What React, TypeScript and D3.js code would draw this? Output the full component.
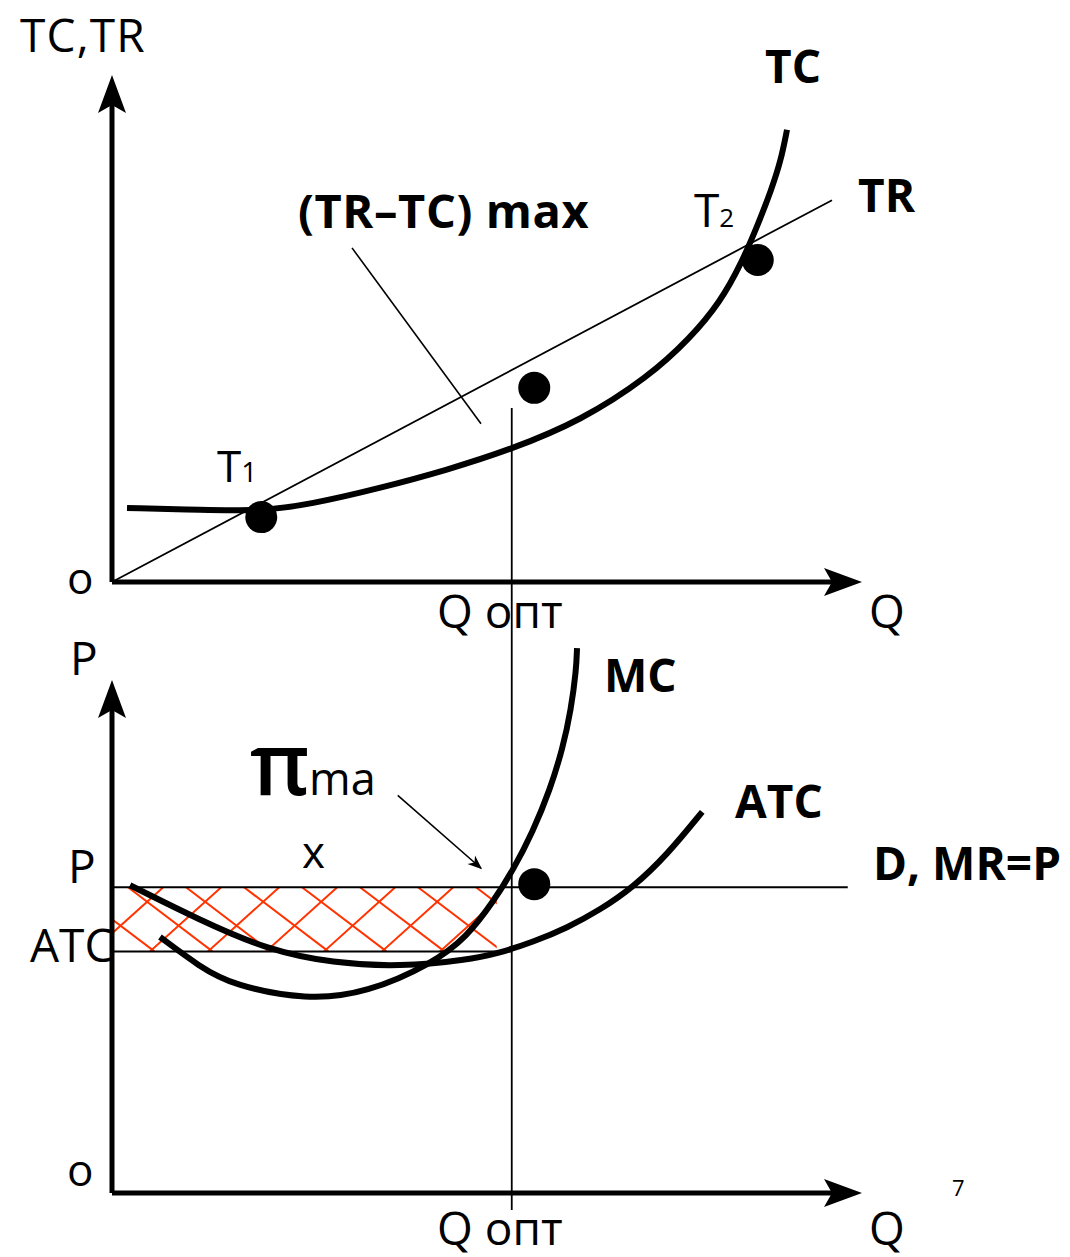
import React from "react";
import * as d3 from "d3";

// ---- top panel: total cost / total revenue ----
const tcQ = [0.2, 1.21, 1.97, 2.64, 3.57, 4.47, 5.33, 6.25, 7.15, 7.71, 8.11, 8.4, 8.61, 8.79, 8.92, 9.0];
const tcV = [1.46, 1.42, 1.4, 1.53, 1.85, 2.21, 2.62, 3.18, 4.04, 4.81, 5.52, 6.31, 7.04, 7.73, 8.32, 8.92];
const trQ = [0, 9.6];
const trV = [0, 7.53];
const topDotQ = [1.99, 5.63, 8.61];
const topDotV = [1.28, 3.83, 6.35];
const qOpt = 5.33;

// ---- bottom panel: marginal cost / average total cost ----
const mcQ = [0.64, 1.17, 1.61, 2.6, 3.4, 4.28, 4.73, 5.08, 5.35, 5.61, 5.84, 6.01, 6.12, 6.19, 6.2];
const mcV = [4.99, 4.41, 4.05, 3.76, 3.9, 4.48, 4.99, 5.67, 6.3, 7.04, 7.86, 8.67, 9.42, 10.2, 10.62];
const atcQ = [0.24, 1.17, 2.07, 2.95, 3.84, 4.73, 5.17, 5.61, 6.07, 6.51, 6.95, 7.4, 7.87];
const atcV = [6.0, 5.32, 4.74, 4.48, 4.41, 4.54, 4.68, 4.89, 5.17, 5.52, 5.96, 6.59, 7.43];
const priceP = 5.96;
const priceATC = 4.71;
const hatchEndQ = 5.13;
const botDotQ = [5.63];
const botDotV = [6.02];

const FONT = "'Open Sans', 'Noto Sans', sans-serif";
const HATCH = "#ff3300";

function App() {
  const x = d3.scaleLinear().domain([0, 10]).range([112, 862]);
  const yTop = d3.scaleLinear().domain([0, 10]).range([582, 75]);
  const yBot = d3.scaleLinear().domain([0, 10]).range([1193, 680]);

  const smooth = d3.curveBasis;
  const tcLine = d3
    .line<number>()
    .x((_, i) => x(tcQ[i]))
    .y((d) => yTop(d))
    .curve(smooth);
  const mcLine = d3
    .line<number>()
    .x((_, i) => x(mcQ[i]))
    .y((d) => yBot(d))
    .curve(smooth);
  const atcLine = d3
    .line<number>()
    .x((_, i) => x(atcQ[i]))
    .y((d) => yBot(d))
    .curve(smooth);

  // hatched profit rectangle
  const hx0 = x(0), hx1 = x(hatchEndQ);
  const hy0 = yBot(priceP), hy1 = yBot(priceATC);
  const hh = hy1 - hy0;
  const step = 58;
  const hatchDown = d3.range(hx0 - 100, hx1 + 20, step).map((s) => [s, hy0, s + hh / 0.76, hy1]);
  const hatchUp = d3.range(hx0 - 100, hx1 + 20, step).map((s) => [s + 22, hy1, s + 22 + hh / 0.9, hy0]);

  // axis arrowheads
  const arrowRight = (tx: number, ty: number) =>
    `M${tx},${ty} L${tx - 38},${ty - 14} L${tx - 30},${ty} L${tx - 38},${ty + 14} Z`;
  const arrowUp = (tx: number, ty: number) =>
    `M${tx},${ty} L${tx - 14},${ty + 38} L${tx},${ty + 30} L${tx + 14},${ty + 38} Z`;

  const reg = { fontFamily: FONT, fontSize: 46, fill: "#000" } as const;
  const bold = { fontFamily: FONT, fontSize: 46, fontWeight: 700, fill: "#000" } as const;

  return (
    <svg
      width={1070}
      height={1257}
      style={{ position: "absolute", left: 0, top: 0, background: "#fff" }}
    >
      <defs>
        <clipPath id="hatchClip">
          <rect x={hx0} y={hy0} width={hx1 - hx0} height={hh} />
        </clipPath>
        <marker id="ptr" viewBox="0 0 10 10" refX="9" refY="5" markerWidth="9" markerHeight="9" orient="auto">
          <path d="M0,1 L10,5 L0,9 L3,5 Z" fill="#000" />
        </marker>
      </defs>

      {/* ===== top panel ===== */}
      <line x1={x(0)} y1={yTop(0)} x2={x(0)} y2={yTop(10) + 30} stroke="#000" strokeWidth={5} />
      <path d={arrowUp(x(0), yTop(10))} fill="#000" />
      <line x1={x(0)} y1={yTop(0)} x2={x(10) - 30} y2={yTop(0)} stroke="#000" strokeWidth={5} />
      <path d={arrowRight(x(10), yTop(0))} fill="#000" />

      <line x1={x(trQ[0])} y1={yTop(trV[0])} x2={x(trQ[1])} y2={yTop(trV[1])} stroke="#000" strokeWidth={1.8} />
      <path d={tcLine(tcV) || ""} fill="none" stroke="#000" strokeWidth={6} />
      {topDotQ.map((q, i) => (
        <circle key={i} cx={x(q)} cy={yTop(topDotV[i])} r={16} fill="#000" />
      ))}

      {/* Q opt guide through both panels */}
      <line x1={x(qOpt)} y1={yTop(3.43)} x2={x(qOpt)} y2={yBot(0) + 17} stroke="#000" strokeWidth={1.8} />
      {/* pointer for (TR-TC) max */}
      <line x1={x(3.2)} y1={yTop(6.59)} x2={x(4.92)} y2={yTop(3.12)} stroke="#000" strokeWidth={1.6} />

      <text x={20} y={52} style={reg} letterSpacing={1.2}>TC,TR</text>
      <text x={765} y={83} style={bold}>TC</text>
      <text x={858} y={212} style={bold}>TR</text>
      <text x={298} y={228} style={{ ...bold, fontSize: 47 }} letterSpacing={0.6}>(TR–TC) max</text>
      <text x={694} y={227} style={{ ...reg, fontSize: 46 }}>
        T<tspan fontSize={26}>2</tspan>
      </text>
      <text x={217} y={482} style={{ ...reg, fontSize: 44 }}>
        T<tspan fontSize={28}>1</tspan>
      </text>
      <text x={67} y={594} style={{ ...reg, fontSize: 44 }}>o</text>
      <text x={437} y={628} style={reg}>Q опт</text>
      <text x={869} y={628} style={reg}>Q</text>

      {/* ===== bottom panel ===== */}
      <g clipPath="url(#hatchClip)">
        {hatchDown.concat(hatchUp).map((l, i) => (
          <line key={i} x1={l[0]} y1={l[1]} x2={l[2]} y2={l[3]} stroke={HATCH} strokeWidth={2} />
        ))}
      </g>
      <line x1={x(0)} y1={yBot(priceP)} x2={x(9.81)} y2={yBot(priceP)} stroke="#000" strokeWidth={2} />
      <line x1={x(0)} y1={yBot(priceATC)} x2={x(qOpt)} y2={yBot(priceATC)} stroke="#000" strokeWidth={2} />

      <line x1={x(0)} y1={yBot(0)} x2={x(0)} y2={yBot(10) + 30} stroke="#000" strokeWidth={5} />
      <path d={arrowUp(x(0), yBot(10))} fill="#000" />
      <line x1={x(0)} y1={yBot(0)} x2={x(10) - 30} y2={yBot(0)} stroke="#000" strokeWidth={5} />
      <path d={arrowRight(x(10), yBot(0))} fill="#000" />

      <path d={mcLine(mcV) || ""} fill="none" stroke="#000" strokeWidth={6} />
      <path d={atcLine(atcV) || ""} fill="none" stroke="#000" strokeWidth={6} />
      {botDotQ.map((q, i) => (
        <circle key={i} cx={x(q)} cy={yBot(botDotV[i])} r={16} fill="#000" />
      ))}

      <line
        x1={x(3.81)}
        y1={yBot(7.75)}
        x2={x(4.92)}
        y2={yBot(6.33)}
        stroke="#000"
        strokeWidth={1.6}
        markerEnd="url(#ptr)"
      />

      <text x={70} y={675} style={reg}>P</text>
      <text x={604} y={692} style={bold}>MC</text>
      <text x={250} y={795} style={{ ...reg, fontSize: 86, fontWeight: 600 }}>π</text>
      <text x={309} y={795} style={{ ...reg, fontSize: 45 }}>ma</text>
      <text x={735} y={818} style={bold}>ATC</text>
      <text x={302} y={868} style={{ ...reg, fontSize: 44 }}>x</text>
      <text x={68} y={883} style={reg}>P</text>
      <text x={873} y={880} style={bold}>D, MR=P</text>
      <text x={30} y={962} style={reg}>ATC</text>
      <text x={67} y={1186} style={{ ...reg, fontSize: 44 }}>o</text>
      <text x={952} y={1196} style={{ ...reg, fontSize: 22 }}>7</text>
      <text x={437} y={1245} style={reg}>Q опт</text>
      <text x={869} y={1245} style={reg}>Q</text>
    </svg>
  );
}

export default App;
